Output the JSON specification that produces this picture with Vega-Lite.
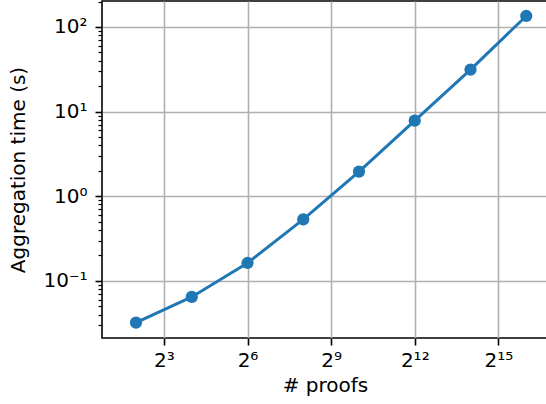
{
  "$schema": "https://vega.github.io/schema/vega-lite/v6.json",
  "width": 446,
  "height": 337,
  "autosize": {"type": "none"},
  "padding": {"left": 102, "top": 1, "right": 0, "bottom": 66},
  "background": "white",
  "config": {
    "view": {"stroke": "black", "strokeWidth": 1.6},
    "font": "DejaVu Sans",
    "axis": {
      "labelFont": "DejaVu Sans",
      "titleFont": "DejaVu Sans",
      "labelFontSize": 20,
      "titleFontSize": 20,
      "titleFontWeight": "normal",
      "labelColor": "black",
      "titleColor": "black",
      "tickColor": "black",
      "domain": false,
      "gridColor": "#b0b0b0",
      "gridWidth": 1.6
    }
  },
  "data": {
    "values": [
      {"proofs": 4, "time": 0.0322},
      {"proofs": 16, "time": 0.0647},
      {"proofs": 64, "time": 0.163},
      {"proofs": 256, "time": 0.534},
      {"proofs": 1024, "time": 1.96},
      {"proofs": 4096, "time": 7.83},
      {"proofs": 16384, "time": 31.4},
      {"proofs": 65536, "time": 135}
    ]
  },
  "encoding": {
    "x": {
      "field": "proofs",
      "type": "quantitative",
      "scale": {"type": "log", "base": 2, "domain": [1.717, 112530], "nice": false},
      "axis": {
        "title": "# proofs",
        "values": [8, 64, 512, 4096, 32768],
        "labelExpr": "datum.value==8?'2³':datum.value==64?'2⁶':datum.value==512?'2⁹':datum.value==4096?'2¹²':datum.value==32768?'2¹⁵':''",
        "tickSize": 7,
        "tickWidth": 1.6,
        "labelPadding": 5,
        "titlePadding": 5,
        "grid": true,
        "labelFlush": false,
        "labelOverlap": false
      }
    },
    "y": {
      "field": "time",
      "type": "quantitative",
      "scale": {"type": "log", "domain": [0.02118, 202.8], "nice": false},
      "axis": {
        "title": "Aggregation time (s)",
        "values": [0.03, 0.04, 0.05, 0.06, 0.07, 0.08, 0.09, 0.1, 0.2, 0.3, 0.4, 0.5, 0.6, 0.7, 0.8, 0.9, 1, 2, 3, 4, 5, 6, 7, 8, 9, 10, 20, 30, 40, 50, 60, 70, 80, 90, 100, 200],
        "labelExpr": "datum.value==100?'10²':datum.value==10?'10¹':datum.value==1?'10⁰':datum.value==0.1?'10⁻¹':''",
        "tickSize": {"condition": {"test": "indexof([0.1,1,10,100], datum.value) >= 0", "value": 7}, "value": 4},
        "tickWidth": {"condition": {"test": "indexof([0.1,1,10,100], datum.value) >= 0", "value": 1.6}, "value": 1.2},
        "gridOpacity": {"condition": {"test": "indexof([0.1,1,10,100], datum.value) >= 0", "value": 1}, "value": 0},
        "grid": true,
        "labelPadding": 8,
        "titlePadding": 14,
        "labelFlush": false,
        "labelOverlap": false
      }
    }
  },
  "layer": [
    {"mark": {"type": "line", "color": "#1f77b4", "strokeWidth": 3}},
    {"mark": {"type": "point", "filled": true, "shape": "circle", "size": 150, "opacity": 1, "color": "#1f77b4"}}
  ]
}
